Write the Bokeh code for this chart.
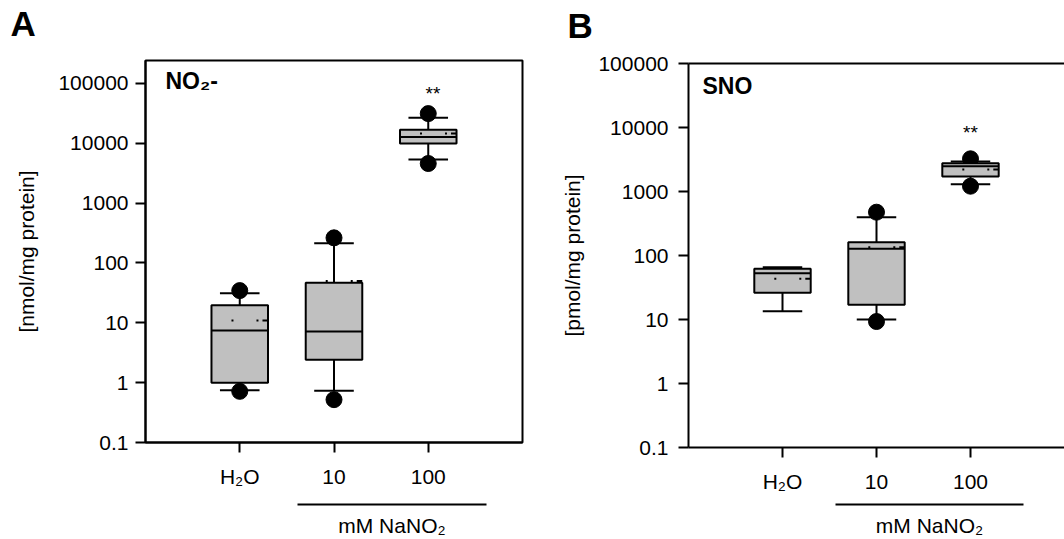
import numpy as np
from bokeh.plotting import figure
from bokeh.layouts import row, column
from bokeh.models import FixedTicker, LinearAxis, Label, Range1d
from bokeh.embed import file_html
from bokeh.resources import INLINE

# ---------------- data ----------------
groups = ["H\u2082O", "10", "100"]
xpos = [1, 2, 3]
group_label = "mM NaNO\u2082"
panel_letters = ["A", "B"]

# Panel A: NO2- [nmol/mg protein]
a_q1 = [1.0, 2.42, 9890]
a_q3 = [19.7, 46.9, 16900]
a_med = [7.45, 7.16, 12700]
a_mean = [10.9, 50, 14500]
a_wlo = [0.745, 0.735, 5350]
a_whi = [31.3, 213, 26800]
a_out_x = [1, 1, 2, 2, 3, 3]
a_out_y = [34.5, 0.716, 263, 0.52, 31300, 4590]

# Panel B: SNO [pmol/mg protein]
b_q1 = [26.1, 17.0, 1710]
b_q3 = [61.9, 161, 2770]
b_med = [52.8, 127, 2480]
b_mean = [43.3, 135, 2210]
b_wlo = [13.5, 10.0, 1300]
b_whi = [65.6, 397, 2940]
b_out_x = [2, 2, 3, 3]
b_out_y = [475, 9.3, 3240, 1210]

yticks = [0.1, 1, 10, 100, 1000, 10000, 100000]
ytick_labels = ["0.1", "1", "10", "100", "1000", "10000", "100000"]

FONT = "Liberation Sans"
BOX_W = 0.6
CAP_W = 0.42
TOP_H = 45


def style_axes(p, ylabel, lab_standoff, tick_standoff, spacer_size, spacer_standoff):
    p.xgrid.visible = False
    p.ygrid.visible = False
    yax = p.yaxis[0]
    yax.ticker = FixedTicker(ticks=yticks)
    yax.major_label_overrides = {t: l for t, l in zip(yticks, ytick_labels)}
    yax.axis_label = ylabel
    yax.axis_label_text_font = FONT
    yax.axis_label_text_font_style = "normal"
    yax.axis_label_text_font_size = "21px"
    yax.axis_label_text_color = "black"
    yax.axis_label_standoff = lab_standoff
    xax = p.xaxis[0]
    xax.ticker = FixedTicker(ticks=xpos)
    xax.major_label_overrides = {x: g for x, g in zip(xpos, groups)}
    xax.axis_label = " "
    xax.axis_label_text_font_size = spacer_size
    xax.axis_label_standoff = spacer_standoff
    for ax in (xax, yax):
        ax.axis_line_width = 2
        ax.axis_line_color = "black"
        ax.major_tick_line_width = 2
        ax.major_tick_line_color = "black"
        ax.major_tick_out = 10
        ax.major_tick_in = 0
        ax.minor_tick_line_color = None
        ax.major_label_text_font = FONT
        ax.major_label_text_font_size = "21px"
        ax.major_label_text_color = "black"
    yax.major_label_standoff = tick_standoff
    xax.major_label_standoff = 12


def draw_boxes(p, q1, q3, med, mean, wlo, whi, ox, oy):
    x = np.array(xpos, dtype=float)
    q1 = np.array(q1); q3 = np.array(q3)
    p.scatter(ox, oy, size=16, color="black")
    p.segment(x, q3, x, whi, line_color="black", line_width=2)
    p.segment(x, q1, x, wlo, line_color="black", line_width=2)
    p.segment(x - CAP_W / 2, whi, x + CAP_W / 2, whi, line_color="black", line_width=2)
    p.segment(x - CAP_W / 2, wlo, x + CAP_W / 2, wlo, line_color="black", line_width=2)
    p.vbar(x=x, width=BOX_W, bottom=q1, top=q3, fill_color="#c0c0c0",
           line_color="black", line_width=2)
    p.segment(x - BOX_W / 2, med, x + BOX_W / 2, med, line_color="black", line_width=2)
    p.segment(x - BOX_W / 2, mean, x + BOX_W / 2, mean, line_color="black",
              line_width=2, line_dash="0 20 2 23 2 4 8 100")


def group_axis(p, lo, hi):
    mid = round((lo + hi) / 2, 3)
    ax = LinearAxis(ticker=FixedTicker(ticks=[mid]), bounds=(lo, hi))
    ax.major_label_overrides = {mid: group_label}
    ax.axis_line_width = 2
    ax.axis_line_color = "black"
    ax.major_tick_line_color = None
    ax.major_tick_out = 0
    ax.major_tick_in = 0
    ax.minor_tick_line_color = None
    ax.major_label_standoff = 9
    ax.major_label_text_font = FONT
    ax.major_label_text_font_size = "21px"
    ax.major_label_text_color = "black"
    p.add_layout(ax, "below")


def txt(p, x, y, s, size, bold=False, align="left", yoff=0):
    p.add_layout(Label(x=x, y=y, text=s, text_font=FONT, text_font_size=size,
                       text_font_style="bold" if bold else "normal",
                       text_align=align, text_baseline="alphabetic",
                       y_offset=yoff, text_color="black"))


# ---------------- top strip with panel letters ----------------
pT = figure(width=1064, height=TOP_H, x_range=Range1d(0, 1064), y_range=Range1d(TOP_H, 0),
            x_axis_type=None, y_axis_type=None, output_backend="svg",
            toolbar_location=None, min_border=0, outline_line_color=None,
            background_fill_color="white", border_fill_color="white")
pT.xgrid.visible = False
pT.ygrid.visible = False
for lx, ly, s in zip([10, 567], [40, 42], panel_letters):
    txt(pT, lx, ly, s, "35px", bold=True, yoff=17)

# ---------------- panel A ----------------
pA = figure(width=530, height=539 - TOP_H, y_axis_type="log", x_range=(0, 4),
            y_range=(0.1, 241600), output_backend="svg", toolbar_location=None,
            min_border_left=145, min_border_right=8, min_border_top=60 - TOP_H,
            min_border_bottom=96, outline_line_color="black", outline_line_width=2,
            background_fill_color="white", border_fill_color="white")
style_axes(pA, "[nmol/mg protein]", 17, 7, "8px", 2)
draw_boxes(pA, a_q1, a_q3, a_med, a_mean, a_wlo, a_whi, a_out_x, a_out_y)
group_axis(pA, 1.613, 3.618)
txt(pA, 0.212, 69500, "NO\u2082-", "23px", bold=True, yoff=12)
txt(pA, 3.05, 45500, "**", "19px", align="center", yoff=10)

# ---------------- panel B ----------------
pB = figure(width=534, height=539 - TOP_H, y_axis_type="log", x_range=(0, 4),
            y_range=(0.1, 100000), output_backend="svg", toolbar_location=None,
            min_border_left=158, min_border_right=0, min_border_top=63 - TOP_H,
            min_border_bottom=92, outline_line_color=None,
            background_fill_color="white", border_fill_color="white")
style_axes(pB, "[pmol/mg protein]", 11, 10, "5px", 0)
top_ax = LinearAxis(ticker=FixedTicker(ticks=[]))
top_ax.axis_line_width = 2
top_ax.axis_line_color = "black"
top_ax.major_tick_line_color = None
top_ax.minor_tick_line_color = None
top_ax.major_label_text_font_size = "0px"
pB.add_layout(top_ax, "above")
draw_boxes(pB, b_q1, b_q3, b_med, b_mean, b_wlo, b_whi, b_out_x, b_out_y)
group_axis(pB, 1.564, 3.564)
txt(pB, 0.149, 31600, "SNO", "23px", bold=True, yoff=10)
txt(pB, 3.0, 6610, "**", "19px", align="center", yoff=7)

layout = column(pT, row(column(pA), column(pB), spacing=0), spacing=0)
open("out.html", "w").write(file_html(layout, INLINE))
